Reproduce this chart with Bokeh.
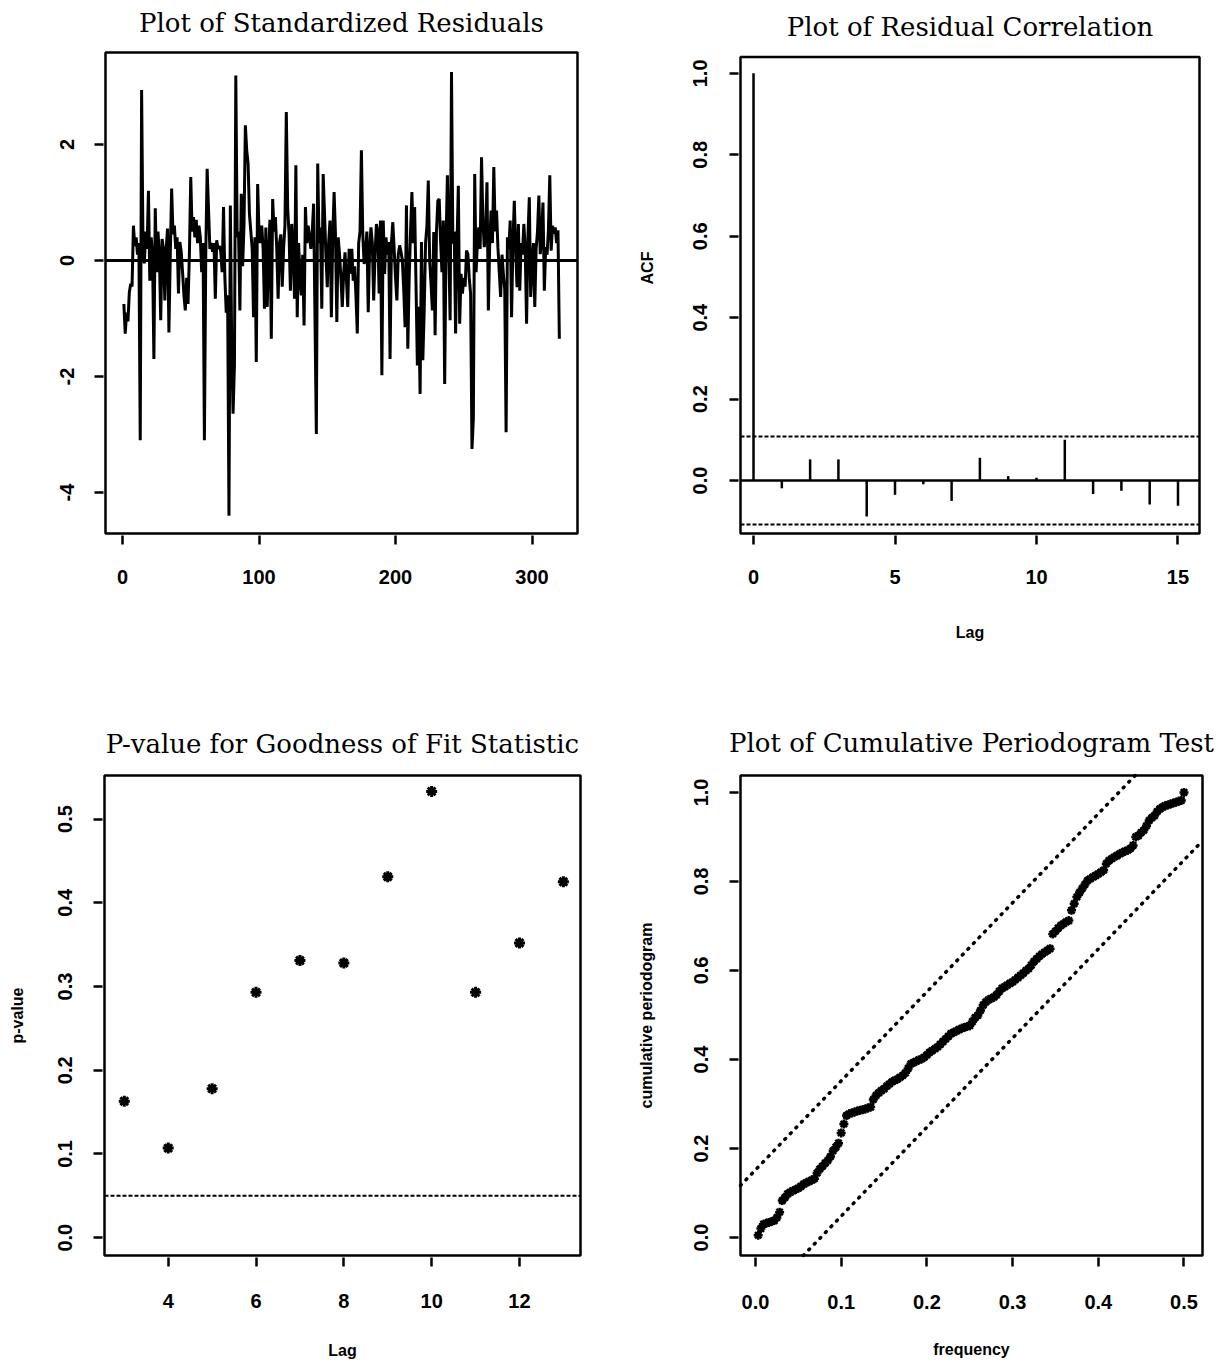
from bokeh.plotting import figure
from bokeh.models import Range1d, FixedTicker, Label
from bokeh.layouts import column, row
from bokeh.embed import file_html
from bokeh.resources import INLINE

# ---------------- data ----------------
resid = [
    -0.75, -1.26, -0.9, -1.05, -0.55, -0.4, -0.45, 0.6, 0.25, 0.4,
    0.1, 0.3, -3.1, 2.94, 0.3, -0.05, 0.5, 0.2, 1.2, -0.35,
    0.4, 0.1, -1.7, 0.9, -0.2, 0.5, 0.1, -1.03, 0.37, 0.2,
    -0.69, 0.2, 0.55, -1.24, 0.1, 1.24, 0.45, 0.6, 0.2, 0.4,
    -0.57, 0.32, 0.15, -0.2, -0.6, -0.86, -0.3, -0.75, 0.1, 1.44,
    0.5, 0.75, 0.4, 0.7, 0.3, 0.6, 0.4, -0.2, 0.3, -3.1,
    0.1, 1.58, 0.9, 0.2, 0.3, 0.15, 0.3, -0.66, 0.35, 0.2,
    0.25, 0.15, -0.2, 0.92, -0.3, -0.9, -0.6, -4.4, 0.95, -1.5,
    -2.64, -1.8, 3.19, 0.4, 0.5, -0.86, 1.15, -0.1, 0.6, 2.33,
    1.9, 1.67, 0.8, 0.5, 0.2, -0.98, 0.4, -1.75, 1.32, 0.5,
    0.3, 0.6, 0.2, -0.83, 0.57, -0.8, 0.1, 0.7, -1.35, 1.06,
    0.5, 0.75, 0.2, -0.66, 0.3, 0.45, -0.45, 0.2, 0.6, 2.56,
    0.9, 0.46, -0.52, 0.63, 0.2, -0.66, 1.64, -0.98, 0.3, -0.29,
    -0.6, 0.1, -1.12, 0.92, 0.3, 0.6, 0.4, 0.2, 0.5, 0.98,
    -0.98, -2.99, 1.67, 0.3, 0.57, -0.83, 1.49, 0.8, 0.1, -0.46,
    0.3, 0.69, -0.98, 0.4, 1.18, 0.46, -1.06, 0.4, 0.1, -0.3,
    -0.8, -0.23, 0.14, -0.3, -0.8, 0.2, -0.23, 0.2, -0.35, -0.1,
    -0.6, -1.26, 0.3, 0.5, 1.9, 0.46, -0.06, 0.1, 0.5, -0.89,
    0.2, 0.57, 0.3, -0.69, 0.1, 0.63, 0.5, -0.57, 0.69, -1.98,
    0.69, -0.23, 0.4, 0.1, 0.32, -1.7, 0.3, 0.66, 0.2, -0.3,
    -0.69, 0.1, 0.26, 0.15, 0.0, -0.5, -1.15, 0.95, -1.52, -0.3,
    0.5, 1.18, 0.3, 0.92, -0.4, -1.81, -0.8, -2.3, 0.32, -1.72,
    -0.86, 0.3, 0.6, 1.38, 0.0, -0.4, -0.86, 0.49, -1.29, 0.5,
    1.03, 1.06, 0.34, -0.2, 0.69, -2.13, 0.3, 1.47, 0.23, -1.03,
    3.25, 0.29, 0.5, -1.26, 0.23, 1.29, -1.09, -0.23, -0.57, -0.3,
    -0.45, 0.17, 0.11, -0.3, -0.57, -3.25, -2.73, 1.49, -0.2, 0.3,
    0.57, 0.2, 1.78, 0.69, 0.23, 0.5, 1.35, -0.86, 0.29, 0.86,
    0.3, 1.61, 0.5, 0.86, 0.23, -0.2, -0.63, 0.1, -0.23, -0.5,
    -2.96, 0.4, 0.2, 0.69, -0.98, 0.3, 1.03, 0.2, -0.46, 0.63,
    -0.52, 0.3, 0.1, 0.63, 0.2, -1.09, 0.4, 1.09, -0.63, -0.11,
    0.3, -0.8, 0.2, 0.5, 1.12, 0.11, 0.4, 1.0, -0.52, 0.23,
    0.1, 0.52, 1.47, 0.17, 0.6, 0.46, 0.57, 0.3, 0.52, -1.35,
]
time_idx = list(range(1, len(resid) + 1))

acf_lag = list(range(0, 16))
acf_val = [1.0, -0.019, 0.052, 0.052, -0.088, -0.035, -0.009, -0.05,
           0.056, 0.011, 0.007, 0.10, -0.033, -0.025, -0.059, -0.062]
acf_ci = 0.108

gof_lag = [3, 4, 5, 6, 7, 8, 9, 10, 11, 12, 13]
gof_p = [0.163, 0.107, 0.178, 0.293, 0.331, 0.328, 0.431, 0.533, 0.293, 0.352, 0.425]
gof_level = 0.05

cpgram = [
    0.005, 0.02, 0.03, 0.032, 0.034, 0.036, 0.038, 0.045, 0.057, 0.083,
    0.09, 0.098, 0.102, 0.105, 0.108, 0.111, 0.115, 0.12, 0.123, 0.126,
    0.129, 0.132, 0.145, 0.154, 0.16, 0.167, 0.173, 0.182, 0.195, 0.203,
    0.212, 0.235, 0.255, 0.274, 0.278, 0.28, 0.282, 0.284, 0.286, 0.287,
    0.289, 0.291, 0.293, 0.31, 0.319, 0.325, 0.33, 0.334, 0.34, 0.345,
    0.35, 0.353, 0.356, 0.36, 0.364, 0.37, 0.38, 0.39, 0.393, 0.396,
    0.399, 0.401, 0.405, 0.41, 0.416, 0.42, 0.424, 0.428, 0.434, 0.44,
    0.446, 0.452, 0.458, 0.461, 0.464, 0.467, 0.47, 0.472, 0.474, 0.476,
    0.485, 0.494, 0.499, 0.51, 0.522, 0.529, 0.534, 0.537, 0.54, 0.545,
    0.553, 0.56, 0.563, 0.567, 0.571, 0.574, 0.579, 0.584, 0.589, 0.594,
    0.6, 0.604, 0.612, 0.62, 0.626, 0.632, 0.637, 0.641, 0.645, 0.649,
    0.682, 0.688, 0.695, 0.701, 0.705, 0.709, 0.712, 0.735, 0.75, 0.765,
    0.775, 0.784, 0.793, 0.802, 0.806, 0.81, 0.813, 0.817, 0.821, 0.825,
    0.84, 0.847, 0.851, 0.855, 0.858, 0.862, 0.865, 0.868, 0.87, 0.874,
    0.881, 0.9, 0.903, 0.91, 0.915, 0.925, 0.937, 0.943, 0.948, 0.957,
    0.963, 0.967, 0.97, 0.972, 0.974, 0.976, 0.978, 0.98, 0.982, 1.0,
]
cp_freq = [k / (2 * len(cpgram)) for k in range(1, len(cpgram) + 1)]
cp_band = 0.152

ticks_tl_x = [0, 100, 200, 300]
ticks_tl_y = [-4, -2, 0, 2]
labels_tl_y = ["-4", "-2", "0", "2"]
ticks_tr_x = [0, 5, 10, 15]
ticks_tr_y = [0.0, 0.2, 0.4, 0.6, 0.8, 1.0]
ticks_bl_x = [4, 6, 8, 10, 12]
ticks_bl_y = [0.0, 0.1, 0.2, 0.3, 0.4, 0.5]
ticks_br_x = [0.0, 0.1, 0.2, 0.3, 0.4, 0.5]
ticks_br_y = [0.0, 0.2, 0.4, 0.6, 0.8, 1.0]

TITLE_FONT = "DejaVu Serif"
TITLE_SIZE = "26px"
TICK_FONT = "Liberation Sans"
PAD = 2
TOP_H = 684
BOT_H = 680


def fmt1(vals):
    return {v: "%.1f" % v for v in vals}


def make_panel(w, h, box, xr, yr, title, title_gap, xticks, yticks,
               xstand, ystand, use_title=False, xlabels=None, ylabels=None):
    """box = (left, right, top, bottom) of the plot box in figure pixels."""
    L, R, T, B = box
    dx = (xr[1] - xr[0]) / (R - L)
    dy = (yr[1] - yr[0]) / (B - T)
    frame_x = (xr[0] - PAD * dx, xr[1] + PAD * dx)
    if use_title:
        frame_y = (yr[0] - PAD * dy, yr[1] + PAD * dy)
        top_border = T - PAD
    else:
        frame_y = (yr[0] - PAD * dy, yr[1] + T * dy)
        top_border = 0
    p = figure(width=w, height=h, x_range=Range1d(*frame_x), y_range=Range1d(*frame_y),
               output_backend="svg", toolbar_location=None,
               min_border_left=L - PAD, min_border_right=w - R - PAD,
               min_border_top=top_border, min_border_bottom=h - B - PAD)
    p.grid.visible = False
    p.background_fill_color = "white"
    p.border_fill_color = "white"
    p.outline_line_color = None
    for ax in p.axis:
        ax.axis_line_color = None
        ax.major_tick_in = 0
        ax.major_tick_out = 9
        ax.major_tick_line_width = 2.5
        ax.major_tick_line_color = "black"
        ax.minor_tick_line_color = None
        ax.major_label_text_font = TICK_FONT
        ax.major_label_text_font_style = "bold"
        ax.major_label_text_font_size = "20px"
        ax.major_label_text_color = "black"
        ax.axis_label_text_font = TICK_FONT
        ax.axis_label_text_font_style = "bold"
        ax.axis_label_text_font_size = "16px"
        ax.axis_label_text_color = "black"
    p.xaxis.bounds = (xr[0], xr[1])
    p.yaxis.bounds = (yr[0], yr[1])
    p.xaxis.ticker = FixedTicker(ticks=xticks)
    p.yaxis.ticker = FixedTicker(ticks=yticks)
    p.xaxis.major_label_standoff = xstand
    p.yaxis.major_label_standoff = ystand
    p.yaxis.major_label_orientation = "vertical"
    if xlabels:
        p.xaxis.major_label_overrides = xlabels
    if ylabels:
        p.yaxis.major_label_overrides = ylabels
    # plot box
    p.quad(left=[xr[0]], right=[xr[1]], bottom=[yr[0]], top=[yr[1]],
           fill_color=None, line_color="black", line_width=2.5)
    if use_title:
        p.title.text = title
        p.title.text_font = TITLE_FONT
        p.title.text_font_size = TITLE_SIZE
        p.title.text_font_style = "normal"
        p.title.text_color = "black"
        p.title.align = "center"
        p.title.standoff = title_gap - PAD + 1
    else:
        p.add_layout(Label(x=(xr[0] + xr[1]) / 2, y=yr[1] + title_gap * dy, text=title,
                           text_align="center", text_baseline="middle",
                           text_font=TITLE_FONT, text_font_size=TITLE_SIZE,
                           text_color="black"))
    return p


# ---------- top-left: standardized residuals ----------
tl_xr, tl_yr = (-12.45, 333.3), (-4.707, 3.586)
p1 = make_panel(620, TOP_H, (105, 577, 52, 533), tl_xr, tl_yr,
                "Plot of Standardized Residuals", 30, ticks_tl_x, ticks_tl_y, 25, 20,
                ylabels=dict(zip(ticks_tl_y, labels_tl_y)))
p1.line(time_idx, resid, line_color="black", line_width=3)
p1.segment(x0=[tl_xr[0]], y0=[0], x1=[tl_xr[1]], y1=[0], line_color="black", line_width=3)

# ---------- top-right: ACF ----------
tr_xr, tr_yr = (-0.46, 15.76), (-0.13, 1.04)
p2 = make_panel(600, TOP_H, (120, 579, 57, 537), tr_xr, tr_yr,
                "Plot of Residual Correlation", 30, ticks_tr_x, ticks_tr_y, 25, 22,
                ylabels=fmt1(ticks_tr_y))
p2.segment(x0=acf_lag, y0=[0] * len(acf_lag), x1=acf_lag, y1=acf_val,
           line_color="black", line_width=2.5)
p2.segment(x0=[tr_xr[0]], y0=[0], x1=[tr_xr[1]], y1=[0], line_color="black", line_width=2.5)
p2.segment(x0=[tr_xr[0], tr_xr[0]], y0=[acf_ci, -acf_ci], x1=[tr_xr[1], tr_xr[1]],
           y1=[acf_ci, -acf_ci], line_color="black", line_width=2, line_dash="4 2")
p2.xaxis.axis_label = "Lag"
p2.yaxis.axis_label = "ACF"
p2.xaxis.axis_label_standoff = 37
p2.yaxis.axis_label_standoff = 35

# ---------- bottom-left: p-values ----------
bl_xr, bl_yr = (2.549, 13.39), (-0.0213, 0.552)
p3 = make_panel(620, BOT_H, (104, 580, 772 - TOP_H, 1257 - TOP_H), bl_xr, bl_yr,
                "P-value for Goodness of Fit Statistic", 30, ticks_bl_x, ticks_bl_y, 27, 21,
                use_title=True, ylabels=fmt1(ticks_bl_y))
p3.scatter(gof_lag, gof_p, marker="asterisk", size=11, line_width=3, line_color="black")
p3.segment(x0=[bl_xr[0]], y0=[gof_level], x1=[bl_xr[1]], y1=[gof_level],
           line_color="black", line_width=2, line_dash="4 2")
p3.xaxis.axis_label = "Lag"
p3.yaxis.axis_label = "p-value"
p3.xaxis.axis_label_standoff = 31
p3.yaxis.axis_label_standoff = 30

# ---------- bottom-right: cumulative periodogram ----------
br_xr, br_yr = (-0.0175, 0.5216), (-0.0404, 1.038)
p4 = make_panel(600, BOT_H, (120, 582, 775 - TOP_H, 1255 - TOP_H), br_xr, br_yr,
                "Plot of Cumulative Periodogram Test", 33, ticks_br_x, ticks_br_y, 28, 21,
                use_title=True, xlabels=fmt1(ticks_br_x), ylabels=fmt1(ticks_br_y))
slope = 1.0 / max(cp_freq)
up_x = [br_xr[0], min(br_xr[1], (br_yr[1] - cp_band) / slope)]
lo_x = [max(br_xr[0], (br_yr[0] + cp_band) / slope), br_xr[1]]
p4.line(up_x, [slope * x + cp_band for x in up_x], line_color="black",
        line_width=3.5, line_dash="1 7", line_cap="round")
p4.line(lo_x, [slope * x - cp_band for x in lo_x], line_color="black",
        line_width=3.5, line_dash="1 7", line_cap="round")
p4.scatter(cp_freq, cpgram, marker="asterisk", size=9, line_width=2.5, line_color="black")
p4.xaxis.axis_label = "frequency"
p4.yaxis.axis_label = "cumulative periodogram"
p4.xaxis.axis_label_standoff = 29
p4.yaxis.axis_label_standoff = 37

layout = column(row(p1, p2), row(p3, p4))
open("out.html", "w").write(file_html(layout, INLINE))
